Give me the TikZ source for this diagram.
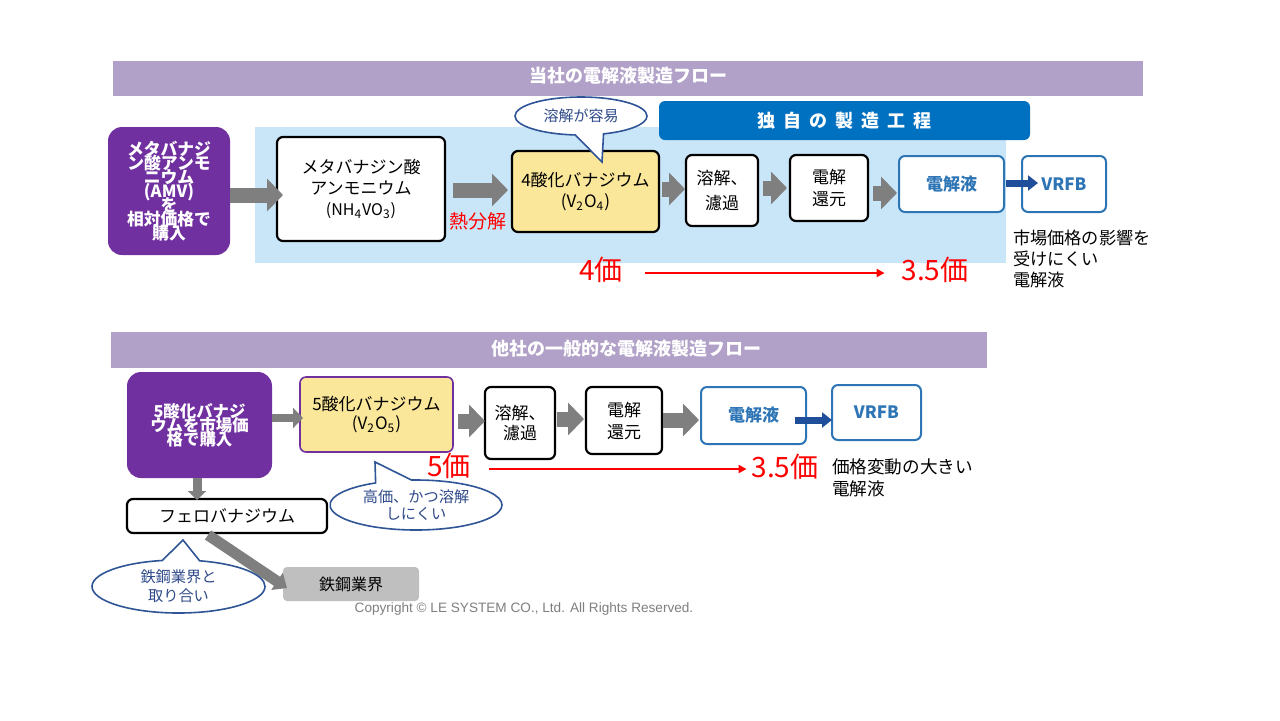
\documentclass[tikz,border=0pt]{standalone}
\usepackage{fontspec}
\setmainfont{Noto Sans CJK JP}
\newfontfamily\latinsans{Liberation Sans}
\usetikzlibrary{arrows.meta,shapes.callouts,calc}
\definecolor{lav}{HTML}{B1A0C7}
\definecolor{lblue}{HTML}{C9E6F9}
\definecolor{vpurple}{HTML}{7030A0}
\definecolor{vyellow}{HTML}{FBE79A}
\definecolor{hblue}{HTML}{0070C0}
\definecolor{boxblue}{HTML}{2E75B6}
\definecolor{darrow}{HTML}{1F4E9A}
\definecolor{arrgray}{HTML}{7F7F7F}
\definecolor{gbox}{HTML}{BFBFBF}
\definecolor{cblue}{HTML}{2F5597}
\definecolor{ctext}{HTML}{2F4A8A}
\definecolor{vred}{HTML}{FF0000}
\newcommand{\fsz}[2]{\fontsize{#1}{#2}\selectfont}
\newcommand{\tightlines}{\lineskiplimit=-50pt\lineskip=0pt}
\newcommand{\ls}{\hspace{4pt}}
\begin{document}
\begin{tikzpicture}[x=0.5pt,y=-0.5pt,
  every node/.style={inner sep=0pt, outer sep=0pt},
  bar/.style={fill=lav, draw=none},
  bartext/.style={text=white, font=\bfseries\fsz{9}{11}},
  pbox/.style={fill=vpurple, rounded corners=7pt, text=white, align=center},
  wbox/.style={draw=black, line width=1.1pt, rounded corners=3pt, fill=white, align=center, font=\fsz{8.5}{10.5}},
  ybox/.style={draw=black, line width=1.1pt, rounded corners=3pt, fill=vyellow, align=center, font=\fsz{8.5}{10.5}},
  bbox/.style={draw=boxblue, line width=1pt, rounded corners=3pt, fill=white, align=center, text=boxblue, font=\bfseries\fsz{8.5}{10}},
  garrow/.style={draw=arrgray, line width=7.5pt, -{Triangle[length=8pt,width=16pt]}},
  thinarrow/.style={draw=arrgray, line width=4pt, -{Triangle[length=5pt,width=10pt]}},
  downarrow/.style={draw=arrgray, line width=4.5pt, -{Triangle[length=4.5pt,width=9pt]}},
  diagarrow/.style={draw=arrgray, line width=5.5pt, -{Triangle[length=6pt,width=10pt]}},
  barrow/.style={draw=darrow, line width=3.5pt, -{Triangle[length=5pt,width=7.5pt]}},
  redarrow/.style={draw=vred, line width=1pt, -{Triangle[length=4pt,width=4pt]}},
  redtext/.style={text=vred, font=\fsz{14}{16}},
  note/.style={align=left, font=\fsz{8.6}{10.5}},
  callout/.style={ellipse callout, draw=cblue, line width=0.8pt, fill=white, text=ctext, align=center, callout pointer arc=25}
]
\useasboundingbox (0,0) rectangle (1280,720);
\fill[white] (0,0) rectangle (1280,720);

% ===== top section =====
\fill[lblue] (255,127) rectangle (1006,263);
\node[bar, minimum width=515pt, minimum height=17.5pt] (tbar) at (628,78.5) {};
\node[bartext] (ttitle) at (628,76) {当社の電解液製造フロー};
\node[fill=hblue, rounded corners=3pt, minimum width=185.5pt, minimum height=19.5pt,
      text=white, font=\bfseries\fsz{9}{11}] (own) at (844.5,120.5)
      {独\ls 自\ls の\ls 製\ls 造\ls 工\ls 程};

\node[pbox, minimum width=61pt, minimum height=64pt, font=\bfseries\fsz{8.4}{7}\tightlines] (A) at (169,191)
  {メタバナジ\\ン酸アンモ\\ニウム\\(AMV)\\を\\相対価格で\\購入};
\node[wbox, minimum width=84pt, minimum height=52pt] (B) at (361,189)
  {メタバナジン酸\\アンモニウム\\{\fsz{8}{10.5}(NH\textsubscript{4}VO\textsubscript{3})}};
\node[ybox, minimum width=73.5pt, minimum height=40.5pt] (C) at (585.5,191.5)
  {4酸化バナジウム\\(V\textsubscript{2}O\textsubscript{4})};
\node[wbox, minimum width=36pt, minimum height=35.5pt, font=\fsz{8.5}{12.5}] (D) at (722,190.5) {溶解、\\濾過};
\node[wbox, minimum width=39pt, minimum height=33pt, font=\fsz{8.5}{11}] (E) at (829,188) {電解\\還元};
\node[bbox, minimum width=52.5pt, minimum height=28pt] (F) at (951.5,184) {電解液};
\node[bbox, minimum width=42pt, minimum height=28pt] (G) at (1064,184) {VRFB};

\node[text=vred, font=\fsz{9.5}{11}] (heat) at (478,221) {熱分解};
\node[note, anchor=west, font=\fsz{8.6}{10.5}] (stable) at (1013,259) {市場価格の影響を\\受けにくい\\電解液};
\node[redtext] (v4) at (601,270) {4価};
\node[redtext] (v35a) at (935,270) {3.5価};

\draw[garrow] ($(A.east)+(0,4)$) -- ($(A.east -| B.west)+(6,4)$);
\draw[garrow] ($(B.east)+(8,1)$) -- ($(B.east -| C.west)+(-4,1)$);
\draw[garrow] ($(C.east)+(3,-2.5)$) -- ($(C.east -| D.west)+(-1,-2.5)$);
\draw[garrow] ($(D.east)+(5,-2.5)$) -- ($(D.east -| E.west)+(-3,-2.5)$);
\draw[garrow] ($(E.east)+(5,5)$) -- ($(E.east -| F.west)+(-2,5)$);
\draw[barrow] ($(F.east)+(2,-1)$) -- ($(F.east -| G.west)+(16,-1)$);
\draw[redarrow] ($(v4.east)+(22,3)$) -- ($(v4.east -| v35a.west)+(-17,3)$);

\node[callout, minimum width=66pt, minimum height=19pt, font=\fsz{7.5}{9},
      callout absolute pointer={(602,162)}] (K1) at (581,116) {溶解が容易};

% ===== bottom section =====
\node[bar, minimum width=438pt, minimum height=18pt] (bbar) at (549,350) {};
\node[bartext] (btitle) at (626,349) {他社の一般的な電解液製造フロー};

\node[pbox, minimum width=72.5pt, minimum height=53pt, font=\bfseries\fsz{8.2}{7}\tightlines] (A2) at (199.5,425)
  {5酸化バナジ\\ウムを市場価\\格で購入};
\node[ybox, draw=vpurple, line width=0.8pt, minimum width=76.5pt, minimum height=37.5pt, font=\fsz{8.5}{9.8}] (C2) at (376.5,414.5)
  {5酸化バナジウム\\(V\textsubscript{2}O\textsubscript{5})};
\node[wbox, minimum width=35pt, minimum height=36pt, font=\fsz{8.5}{10}] (D2) at (520,423) {溶解、\\濾過};
\node[wbox, minimum width=38pt, minimum height=33.5pt, font=\fsz{8.5}{11}] (E2) at (624,420.5) {電解\\還元};
\node[bbox, minimum width=52.5pt, minimum height=28.5pt] (F2) at (753.5,415.5) {電解液};
\node[bbox, minimum width=44.5pt, minimum height=27.5pt] (G2) at (876.5,412.5) {VRFB};
\node[wbox, minimum width=100pt, minimum height=17pt] (H2) at (227,516) {フェロバナジウム};
\node[fill=gbox, rounded corners=2pt, minimum width=68pt, minimum height=17pt, font=\fsz{8}{10}] (I2) at (351,584) {鉄鋼業界};

\node[redtext] (v5) at (449,466) {5価};
\node[redtext] (v35b) at (785,467) {3.5価};
\node[note, anchor=west, font=\fsz{8.8}{11}] (volatile) at (832,478) {価格変動の大きい\\電解液};

\draw[thinarrow] ($(A2.east)+(0,-7)$) -- ($(A2.east -| C2.west)+(3,-7)$);
\draw[garrow] ($(C2.east)+(5,6.5)$) -- ($(C2.east -| D2.west)+(0,6.5)$);
\draw[garrow] ($(D2.east)+(2,-4)$) -- ($(D2.east -| E2.west)+(-2,-4)$);
\draw[garrow] ($(E2.east)+(1,-0.5)$) -- ($(E2.east -| F2.west)+(-2,-0.5)$);
\draw[barrow] ($(F2.east)+(-11,4.5)$) -- ($(F2.east -| G2.west)+(0,4.5)$);
\draw[downarrow] ($(A2.south)+(-2.5,0)$) -- ($(A2.south |- H2.north)+(-2.5,1)$);
\draw[diagarrow] ($(H2.south)+(-19,2)$) -- ($(I2.west)+(4,4)$);
\draw[redarrow] ($(v5.east)+(18,3)$) -- ($(v5.east -| v35b.west)+(-5,3)$);

\node[callout, minimum width=86pt, minimum height=25pt, font=\fsz{7.6}{8.2}\tightlines,
      callout absolute pointer={(375,462)}] (K2) at (416,505) {高価、かつ溶解\\しにくい};
\node[callout, minimum width=86.5pt, minimum height=26.5pt, font=\fsz{7.6}{9.5},
      callout absolute pointer={(183,540)}] (K3) at (178.5,586.5) {鉄鋼業界と\\取り合い};

\node[text=arrgray, font=\latinsans\fsz{6.8}{8}] (copy) at (524,609)
  {Copyright © LE SYSTEM CO., Ltd. All Rights Reserved.};
\end{tikzpicture}
\end{document}
